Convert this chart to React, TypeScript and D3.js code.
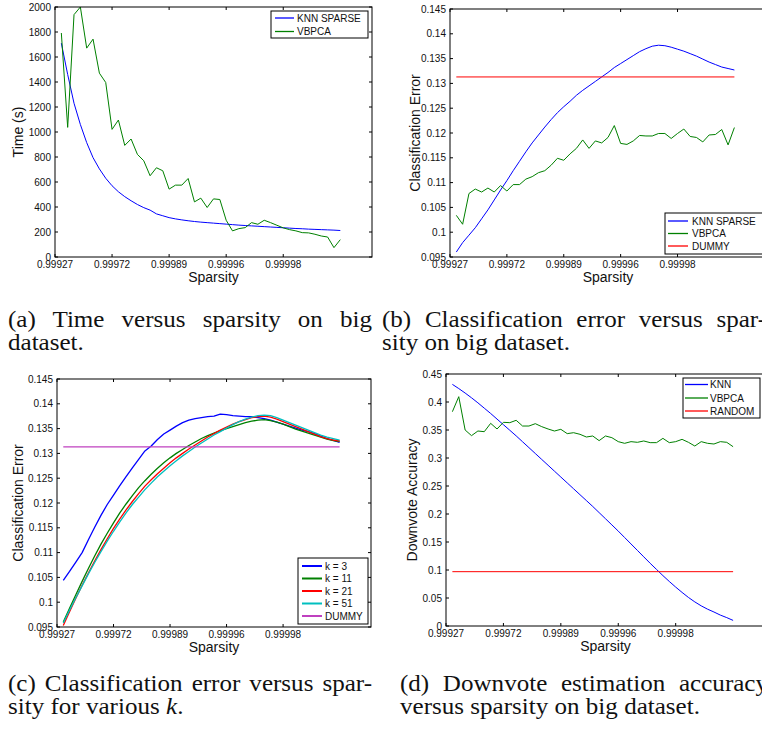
import React, { useLayoutEffect, useRef } from "react"
import * as d3 from "d3"

// x axis is the sample index; labels are the sparsity values MATLAB printed
const xTickPos = [0, 9, 18, 27, 36]
const xTickLabels = ["0.99927", "0.99972", "0.99989", "0.99996", "0.99998"]

// (a) time (s)
const timeKnn = [1711, 1460, 1230, 1060, 915, 795, 705, 630, 570, 522, 483, 450, 420, 395, 375, 345, 330, 315, 305, 297, 290, 284, 279, 275, 271, 267, 263, 259, 255, 252, 249, 246, 243, 240, 237, 234, 231, 228, 226, 223, 221, 219, 217, 215, 212]
const timeVbpca = [1792, 1037, 1939, 2000, 1671, 1743, 1471, 1396, 1021, 1096, 893, 944, 821, 770, 650, 714, 690, 543, 575, 575, 628, 441, 471, 396, 465, 460, 294, 209, 227, 235, 275, 262, 294, 275, 254, 233, 219, 209, 195, 193, 182, 168, 160, 75, 139]

// (b) classification error
const errKnn = [0.096, 0.0979, 0.0994, 0.1009, 0.1027, 0.1045, 0.1065, 0.1085, 0.1104, 0.1124, 0.1143, 0.1162, 0.118, 0.1196, 0.1212, 0.1227, 0.1241, 0.1253, 0.1264, 0.1276, 0.1286, 0.1295, 0.1304, 0.1313, 0.1322, 0.1332, 0.134, 0.1348, 0.1356, 0.1364, 0.137, 0.1375, 0.1377, 0.1376, 0.1373, 0.1369, 0.1365, 0.136, 0.1355, 0.1349, 0.1343, 0.1338, 0.1333, 0.133, 0.1327]
const errVbpca = [0.1034, 0.1016, 0.1078, 0.1087, 0.1081, 0.1089, 0.1081, 0.1094, 0.1083, 0.1096, 0.1096, 0.1107, 0.1112, 0.112, 0.1124, 0.1135, 0.1149, 0.1145, 0.1158, 0.1169, 0.1186, 0.1169, 0.1184, 0.118, 0.1191, 0.1215, 0.1179, 0.1177, 0.1184, 0.1195, 0.1194, 0.1194, 0.1199, 0.1199, 0.1189, 0.1199, 0.1208, 0.1193, 0.1191, 0.1182, 0.1196, 0.1197, 0.1207, 0.1176, 0.1211]
const errDummy = 0.1313

// (c) classification error for several k
const errK3 = [0.1044, 0.1062, 0.1081, 0.11, 0.1126, 0.1151, 0.1175, 0.1197, 0.1216, 0.1235, 0.1253, 0.1271, 0.1288, 0.1305, 0.1315, 0.1328, 0.1339, 0.1347, 0.1355, 0.1362, 0.1367, 0.137, 0.1372, 0.1374, 0.1375, 0.1379, 0.1378, 0.1376, 0.1375, 0.1374, 0.1374, 0.1372, 0.137, 0.1367, 0.1363, 0.1359, 0.1355, 0.1351, 0.1347, 0.1344, 0.134, 0.1335, 0.133, 0.1326, 0.1322]
const errK11 = [0.096, 0.0988, 0.1015, 0.1042, 0.1068, 0.1093, 0.1117, 0.1139, 0.116, 0.118, 0.1198, 0.1215, 0.1231, 0.1245, 0.1258, 0.127, 0.1281, 0.1291, 0.13, 0.1308, 0.1316, 0.1323, 0.133, 0.1336, 0.1341, 0.1346, 0.135, 0.1354, 0.1358, 0.1362, 0.1365, 0.1367, 0.1368, 0.1366, 0.1363, 0.1359, 0.1354, 0.1349, 0.1345, 0.1341, 0.1337, 0.1333, 0.1329, 0.1326, 0.1324]
const errK21 = [0.0953, 0.0981, 0.1008, 0.1034, 0.1059, 0.1083, 0.1106, 0.1128, 0.1149, 0.1168, 0.1186, 0.1203, 0.1219, 0.1234, 0.1247, 0.1259, 0.127, 0.1281, 0.1291, 0.13, 0.1309, 0.1317, 0.1325, 0.1333, 0.134, 0.1347, 0.1353, 0.1359, 0.1364, 0.1368, 0.1372, 0.1374, 0.1375, 0.1373, 0.1369, 0.1364, 0.1359, 0.1354, 0.1349, 0.1344, 0.1339, 0.1334, 0.133, 0.1327, 0.1325]
const errK51 = [0.0958, 0.0984, 0.1009, 0.1033, 0.1057, 0.108, 0.1102, 0.1123, 0.1143, 0.1162, 0.118, 0.1197, 0.1212, 0.1227, 0.124, 0.1253, 0.1264, 0.1275, 0.1285, 0.1295, 0.1304, 0.1313, 0.1321, 0.1329, 0.1337, 0.1344, 0.1351, 0.1358, 0.1364, 0.1369, 0.1373, 0.1376, 0.1377, 0.1376, 0.1372, 0.1367, 0.1362, 0.1357, 0.1352, 0.1347, 0.1342, 0.1337, 0.1333, 0.133, 0.1327]

// (d) downvote accuracy
const downKnn = [0.4315, 0.424, 0.416, 0.4075, 0.3985, 0.389, 0.3795, 0.3695, 0.3595, 0.3495, 0.3395, 0.329, 0.3185, 0.308, 0.2975, 0.287, 0.2765, 0.266, 0.2555, 0.245, 0.2345, 0.224, 0.2135, 0.2025, 0.1915, 0.1805, 0.1695, 0.158, 0.1465, 0.135, 0.1235, 0.112, 0.101, 0.09, 0.0795, 0.0695, 0.06, 0.051, 0.043, 0.036, 0.03, 0.025, 0.0195, 0.015, 0.01]
const downVbpca = [0.3827, 0.4095, 0.35, 0.3399, 0.3482, 0.347, 0.3619, 0.3518, 0.3637, 0.3631, 0.3673, 0.3571, 0.3571, 0.3613, 0.356, 0.3518, 0.3482, 0.3512, 0.3435, 0.3452, 0.3423, 0.3375, 0.3393, 0.331, 0.3393, 0.3363, 0.3292, 0.3262, 0.3292, 0.328, 0.3304, 0.3274, 0.3274, 0.3351, 0.3274, 0.3292, 0.3333, 0.328, 0.3214, 0.3292, 0.3262, 0.325, 0.3292, 0.328, 0.3202]
const downRandom = 0.097

const timeTicks = [0, 200, 400, 600, 800, 1000, 1200, 1400, 1600, 1800, 2000]
const errTicks = [0.095, 0.1, 0.105, 0.11, 0.115, 0.12, 0.125, 0.13, 0.135, 0.14, 0.145]
const downTicks = [0, 0.05, 0.1, 0.15, 0.2, 0.25, 0.3, 0.35, 0.4, 0.45]

const BLUE = "#0000ff"
const GREEN = "#008000"
const RED = "#ff0000"
const CYAN = "#00bfbf"
const MAGENTA = "#bf40bf"
const SANS = "'Liberation Sans', Arial, Helvetica, sans-serif"
const SERIF = "'Liberation Serif', 'Times New Roman', serif"
const CAP_STRETCH = 1.09 // Computer Modern runs wider than Times

type Series = { values?: number[]; level?: number; color: string; label: string }

function Panel({ box, yDomain, yTicks, yLabel, yLabelX, series, legend, sw = 1 }: any) {
    const x = d3.scaleLinear().domain([0, 50]).range([box.left, box.right])
    const y = d3.scaleLinear().domain(yDomain).range([box.bottom, box.top])
    const line = d3
        .line<number>()
        .x((_, i) => x(i + 1))
        .y((d) => y(d))
    const fmt = (v: number) => String(+v.toFixed(3))
    const tl = 3

    return (
        <g fontFamily={SANS}>
            <rect x={box.left} y={box.top} width={box.right - box.left} height={box.bottom - box.top} fill="#fff" />
            {series.map((s: Series, i: number) =>
                s.values ? (
                    <path key={i} d={line(s.values) || ""} fill="none" stroke={s.color} strokeWidth={sw} strokeLinejoin="round" />
                ) : (
                    <line key={i} x1={x(1)} x2={x(45)} y1={y(s.level!)} y2={y(s.level!)} stroke={s.color} strokeWidth={sw} />
                )
            )}
            <rect x={box.left} y={box.top} width={box.right - box.left} height={box.bottom - box.top} fill="none" stroke="#000" strokeWidth={1} />
            {xTickPos.map((t, i) => (
                <g key={i}>
                    <line x1={x(t)} x2={x(t)} y1={box.bottom} y2={box.bottom - tl} stroke="#000" />
                    <line x1={x(t)} x2={x(t)} y1={box.top} y2={box.top + tl} stroke="#000" />
                    <text x={x(t)} y={box.bottom + 11} fontSize={10} textAnchor="middle" fill="#111">
                        {xTickLabels[i]}
                    </text>
                </g>
            ))}
            {yTicks.map((t: number, i: number) => (
                <g key={i}>
                    <line x1={box.left} x2={box.left + tl} y1={y(t)} y2={y(t)} stroke="#000" />
                    <line x1={box.right} x2={box.right - tl} y1={y(t)} y2={y(t)} stroke="#000" />
                    <text x={box.left - 4} y={y(t)} dy="0.35em" fontSize={10} textAnchor="end" fill="#111">
                        {fmt(t)}
                    </text>
                </g>
            ))}
            <text x={(box.left + box.right) / 2} y={box.bottom + 25} fontSize={14} textAnchor="middle" fill="#111">
                Sparsity
            </text>
            <text
                transform={`translate(${yLabelX},${(box.top + box.bottom) / 2}) rotate(-90)`}
                dy="0.35em"
                fontSize={14}
                textAnchor="middle"
                fill="#111"
            >
                {yLabel}
            </text>
            <g>
                <rect x={legend.x0} y={legend.y0} width={legend.x1 - legend.x0} height={legend.y1 - legend.y0} fill="#fff" stroke="#000" />
                {series.map((s: Series, i: number) => (
                    <g key={i}>
                        <line x1={legend.lx0} x2={legend.lx1} y1={legend.rows[i]} y2={legend.rows[i]} stroke={s.color} strokeWidth={legend.sw || 1.3} />
                        <text x={legend.tx} y={legend.rows[i]} dy="0.35em" fontSize={10} fill="#111">
                            {s.label}
                        </text>
                    </g>
                ))}
            </g>
        </g>
    )
}

// caption line; full lines are justified to `width` with extra word spacing like LaTeX
function Caption({ x, y, width, children }: any) {
    const ref = useRef<SVGTextElement>(null)
    useLayoutEffect(() => {
        const el = ref.current
        if (!el || !width) return
        el.setAttribute("word-spacing", "0")
        const natural = el.getComputedTextLength()
        const spaces = ((el.textContent || "").match(/ /g) || []).length
        if (spaces > 0) el.setAttribute("word-spacing", String((width / CAP_STRETCH - natural) / spaces))
    })
    return (
        <g transform={`translate(${x},${y}) scale(${CAP_STRETCH},1)`}>
            <text ref={ref} x={0} y={0} fontFamily={SERIF} fontSize={23} fill="#111">
                {children}
            </text>
        </g>
    )
}

export default function App() {
    return (
        <div style={{ position: "absolute", left: 0, top: 0 }}>
            <svg width={762} height={731} viewBox="0 0 762 731" style={{ display: "block", background: "#fff" }}>
                <Panel
                    box={{ left: 55, right: 372, top: 7, bottom: 257 }}
                    yDomain={[0, 2000]}
                    yTicks={timeTicks}
                    yLabel="Time (s)"
                    yLabelX={18}
                    series={[
                        { values: timeKnn, color: BLUE, label: "KNN SPARSE" },
                        { values: timeVbpca, color: GREEN, label: "VBPCA" },
                    ]}
                    legend={{ x0: 271, x1: 368, y0: 11, y1: 38, lx0: 275, lx1: 294, tx: 297, rows: [18, 31.5] }}
                />
                <Panel
                    box={{ left: 450, right: 766, top: 9, bottom: 257 }}
                    yDomain={[0.095, 0.145]}
                    yTicks={errTicks}
                    yLabel="Classification Error"
                    yLabelX={415}
                    series={[
                        { values: errKnn, color: BLUE, label: "KNN SPARSE" },
                        { values: errVbpca, color: GREEN, label: "VBPCA" },
                        { level: errDummy, color: RED, label: "DUMMY" },
                    ]}
                    legend={{ x0: 665, x1: 766, y0: 213, y1: 254, lx0: 668, lx1: 688, tx: 692, rows: [221, 233.5, 246] }}
                />
                <Panel
                    box={{ left: 57, right: 371, top: 379, bottom: 627 }}
                    yDomain={[0.095, 0.145]}
                    yTicks={errTicks}
                    yLabel="Classification Error"
                    yLabelX={18}
                    sw={1.3}
                    series={[
                        { values: errK3, color: BLUE, label: "k = 3" },
                        { values: errK11, color: GREEN, label: "k = 11" },
                        { values: errK21, color: RED, label: "k = 21" },
                        { values: errK51, color: CYAN, label: "k = 51" },
                        { level: errDummy, color: MAGENTA, label: "DUMMY" },
                    ]}
                    legend={{ x0: 298, x1: 368, y0: 558, y1: 624, lx0: 302, lx1: 322, tx: 325, rows: [566, 578.5, 591, 603.5, 616], sw: 2 }}
                />
                <Panel
                    box={{ left: 446, right: 765, top: 374, bottom: 626 }}
                    yDomain={[0, 0.45]}
                    yTicks={downTicks}
                    yLabel="Downvote Accuracy"
                    yLabelX={412}
                    series={[
                        { values: downKnn, color: BLUE, label: "KNN" },
                        { values: downVbpca, color: GREEN, label: "VBPCA" },
                        { level: downRandom, color: RED, label: "RANDOM" },
                    ]}
                    legend={{ x0: 683, x1: 760, y0: 378, y1: 418, lx0: 685, lx1: 708, tx: 710, rows: [384.5, 398, 411] }}
                />

                <Caption x={8} y={327} width={364}>(a) Time versus sparsity on big</Caption>
                <Caption x={8} y={350}>dataset.</Caption>
                <Caption x={382} y={327} width={384}>(b) Classification error versus spar-</Caption>
                <Caption x={382} y={350}>sity on big dataset.</Caption>
                <Caption x={8} y={691} width={364}>(c) Classification error versus spar-</Caption>
                <Caption x={8} y={714}>
                    sity for various <tspan fontStyle="italic">k</tspan>.
                </Caption>
                <Caption x={400} y={691} width={368}>(d) Downvote estimation accuracy</Caption>
                <Caption x={400} y={714}>versus sparsity on big dataset.</Caption>
            </svg>
        </div>
    )
}
